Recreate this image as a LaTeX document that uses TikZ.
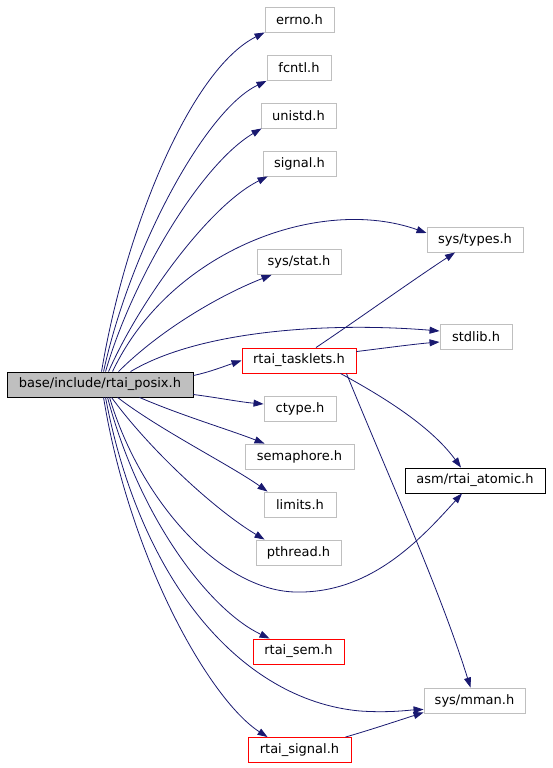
\documentclass[tikz,border=0pt]{standalone}
\usepackage{fontspec}
\setmainfont{DejaVu Sans}
\usetikzlibrary{arrows.meta}
\definecolor{edgeblue}{HTML}{191970}
\definecolor{boxgrey}{HTML}{BFBFBF}
\tikzset{
  box/.style={draw=boxgrey, line width=0.9pt, inner sep=0pt, minimum height=25pt, font=\fontsize{13}{15}\selectfont, text=black},
  redbox/.style={box, draw=red},
  blackbox/.style={box, draw=black},
  rootbox/.style={box, draw=black, fill=boxgrey},
  dep/.style={draw=edgeblue, line width=0.8pt, -{Triangle[length=10pt,width=7pt]}},
}
\begin{document}
\begin{tikzpicture}[x=1pt,y=-1pt]
\useasboundingbox (0,0) rectangle (552,768);
\node[rootbox, minimum width=186pt] (root) at (100,384.5) {base/include/rtai\_posix.h};
\node[box, minimum width=69pt] (errno) at (299.5,19.5) {errno.h};
\node[box, minimum width=64pt] (fcntl) at (299,68) {fcntl.h};
\node[box, minimum width=75pt] (unistd) at (298.5,115.5) {unistd.h};
\node[box, minimum width=73pt] (signal) at (299.5,163.5) {signal.h};
\node[box, minimum width=96pt] (systypes) at (475,239.5) {sys/types.h};
\node[box, minimum width=84pt] (sysstat) at (299,262) {sys/stat.h};
\node[box, minimum width=72pt] (stdlib) at (476,336.5) {stdlib.h};
\node[redbox, minimum width=114pt] (tasklets) at (299,360.5) {rtai\_tasklets.h};
\node[box, minimum width=72pt] (ctype) at (300,408.5) {ctype.h};
\node[box, minimum width=109pt] (semaphore) at (299.5,456.5) {semaphore.h};
\node[blackbox, minimum width=140pt] (atomic) at (475,480.5) {asm/rtai\_atomic.h};
\node[box, minimum width=72pt] (limits) at (300,504.5) {limits.h};
\node[box, minimum width=85pt] (pthread) at (298.5,552.5) {pthread.h};
\node[redbox, minimum width=91pt] (rtaisem) at (298.5,651.5) {rtai\_sem.h};
\node[box, minimum width=101pt] (sysmman) at (474.5,700.5) {sys/mman.h};
\node[redbox, minimum width=103pt] (rtaisignal) at (299.5,750) {rtai\_signal.h};

% root edges
\draw[dep] (root.north west) ++(95,0) .. controls (125,230) and (190,70) .. (errno.south west);
\draw[dep] (root.north west) ++(97,0) .. controls (130,250) and (205,110) .. (fcntl.south west);
\draw[dep] (root.north west) ++(99,0) .. controls (132,280) and (200,165) .. ([xshift=1pt]unistd.south west);
\draw[dep] (root.north west) ++(102,0) .. controls (140,300) and (210,205) .. ([xshift=5pt]signal.south west);
\draw[dep] (root.north west) ++(106,0) .. controls (170,250) and (320,195) .. ([yshift=6.5pt]systypes.west);
\draw[dep] (root.north west) ++(112,0) .. controls (160,330) and (220,295) .. ([xshift=15pt]sysstat.south west);
\draw[dep] (root.north west) ++(124,0) .. controls (200,330) and (330,322) .. ([yshift=5.5pt]stdlib.west);
\draw[dep] ([yshift=9pt]root.east) .. controls (210,372) and (225,366) .. (tasklets.west);
\draw[dep] ([yshift=-10pt]root.east) .. controls (220,398) and (240,402) .. ([yshift=4.5pt]ctype.west);
\draw[dep] (root.south west) ++(133,0) .. controls (180,415) and (230,430) .. ([xshift=20pt]semaphore.north west);
\draw[dep] (root.south west) ++(111,0) .. controls (160,430) and (230,465) .. ([xshift=4pt]limits.north west);
\draw[dep] (root.south west) ++(105,0) .. controls (150,450) and (215,510) .. ([xshift=9pt]pthread.north west);
\draw[dep] (root.south west) ++(103,0) .. controls (140,500) and (220,590) .. (295,592) .. controls (370,594) and (420,540) .. ([xshift=-13pt]atomic.south);
\draw[dep] (root.south west) ++(101,0) .. controls (140,520) and (210,610) .. ([xshift=17pt]rtaisem.north west);
\draw[dep] (root.south west) ++(99,0) .. controls (140,580) and (240,700) .. (360,711) .. controls (390,713) and (410,710) .. ([yshift=4pt]sysmman.south west);
\draw[dep] (root.south west) ++(97,0) .. controls (130,560) and (210,700) .. ([xshift=20pt]rtaisignal.north west);

% tasklets edges
\draw[dep] ([xshift=17pt]tasklets.north) .. controls (360,318) and (410,282) .. ([xshift=-20pt]systypes.south);
\draw[dep] ([yshift=-4pt]tasklets.north east) .. controls (385,348) and (415,344) .. ([yshift=-5.5pt]stdlib.west);
\draw[dep] ([xshift=-16pt]tasklets.south east) .. controls (380,395) and (430,425) .. ([xshift=-14pt]atomic.north);
\draw[dep] ([xshift=-10pt]tasklets.south east) .. controls (390,480) and (440,590) .. ([xshift=-4pt]sysmman.north);
\draw[dep] ([xshift=-6pt]rtaisignal.north east) .. controls (370,730) and (400,720) .. ([yshift=1pt]sysmman.south west);
\end{tikzpicture}
\end{document}
